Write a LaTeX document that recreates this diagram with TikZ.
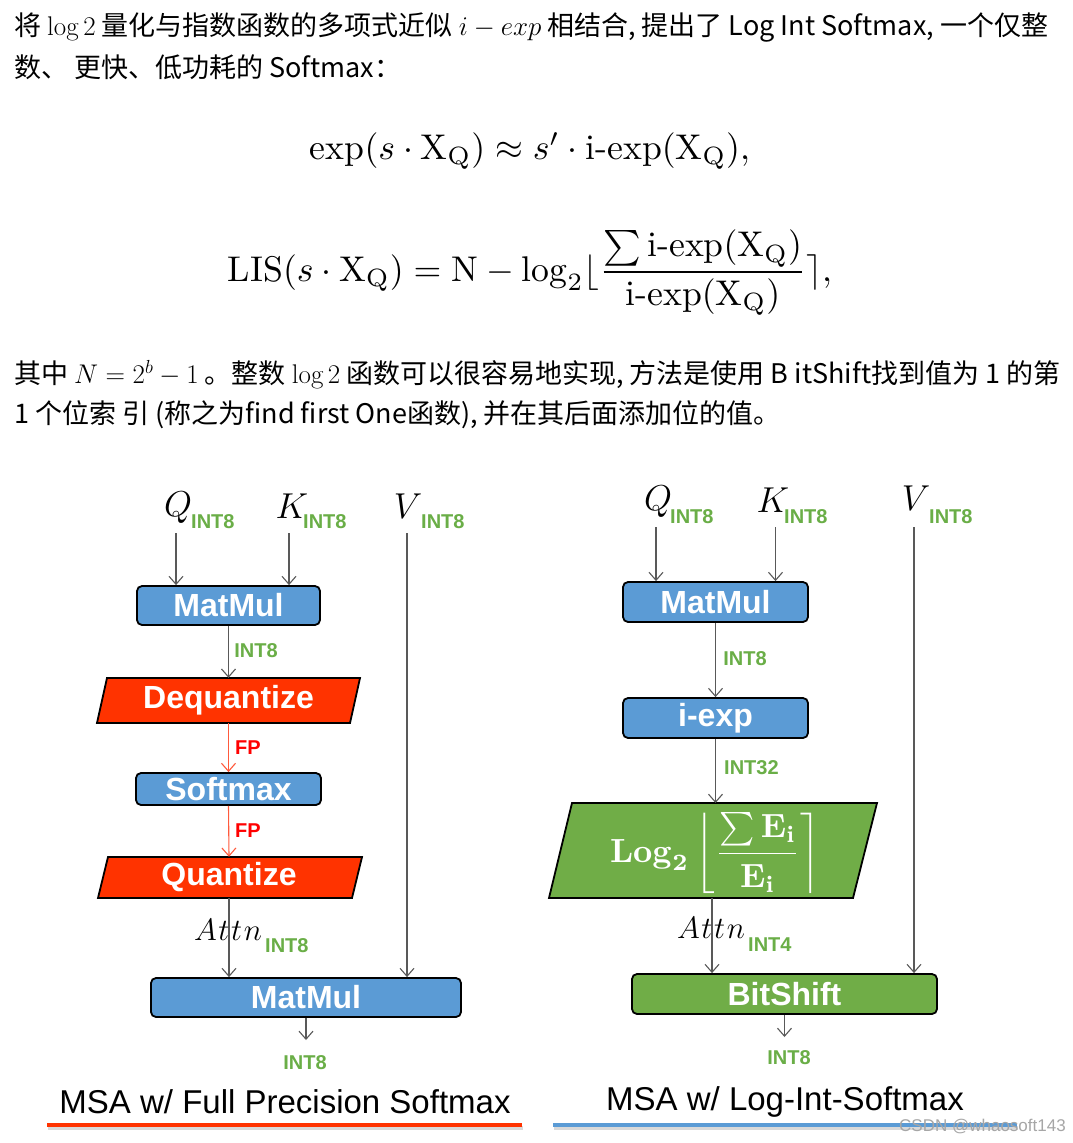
\RequirePackage{fix-cm}
\documentclass[tikz,border=0pt]{standalone}
\usepackage{fontspec}
\usepackage{amsmath}
\usepackage{graphicx}
\newfontfamily\cjk{Noto Sans CJK SC}
\newfontfamily\arial{Liberation Sans}
\usetikzlibrary{arrows.meta}
\definecolor{boxblue}{HTML}{5B9BD5}
\definecolor{boxred}{HTML}{FF3300}
\definecolor{boxgreen}{HTML}{70AD47}
\definecolor{lblgreen}{HTML}{6AAE47}
\definecolor{fpred}{HTML}{FF0000}
\definecolor{fparrow}{HTML}{FF5A3C}
\definecolor{arrgray}{HTML}{595959}
\begin{document}
\begin{tikzpicture}[x=1pt,y=-1pt,
  txtline/.style={anchor=west,inner sep=0pt,font=\cjk\fontsize{27}{32}\selectfont},
  opbox/.style={draw=black,line width=1.8pt,rounded corners=5pt,fill=boxblue,text=white,
     font=\arial\bfseries\fontsize{32}{36}\selectfont,inner sep=0pt},
  paratext/.style={inner sep=0pt,text=white,font=\arial\bfseries\fontsize{32}{36}\selectfont},
  parashape/.style={draw=black,line width=1.8pt,line join=miter},
  conn/.style={draw=arrgray,line width=1.1pt,-{Straight Barb[length=8pt,width=14pt,line width=1.1pt]}},
  fpconn/.style={draw=fparrow,line width=1.1pt,-{Straight Barb[length=8pt,width=14pt,line width=1.1pt]}},
  greenlbl/.style={inner sep=0pt,text=lblgreen,font=\arial\bfseries\fontsize{20}{22}\selectfont},
  redlbl/.style={inner sep=0pt,text=fpred,font=\arial\bfseries\fontsize{20}{22}\selectfont},
  varlbl/.style={inner sep=0pt,font=\fontsize{36}{40}\selectfont},
  attnlbl/.style={inner sep=0pt,font=\fontsize{31}{36}\selectfont},
  title/.style={inner sep=0pt,font=\arial\fontsize{33}{36}\selectfont}
]
\useasboundingbox (0,0) rectangle (1073,1143);
\fill[white] (0,0) rectangle (1073,1143);

% ---------- text ----------
\node[txtline] (l1) at (14,27) {将 $\log 2$ 量化与指数函数的多项式近似 $i-exp$ 相结合, 提出了 Log Int Softmax, 一个仅整};
\node[txtline] (l2) at (14,67) {数、 更快、低功耗的 Softmax：};
\node[inner sep=0pt] (eq1) at (530,151) {\resizebox{440pt}{!}{$\exp(s\cdot \mathrm{X_Q})\approx s'\cdot \text{i-exp}(\mathrm{X_Q}),$}};
\node[inner sep=0pt] (eq2) at (530,273) {\resizebox{604pt}{!}{$\mathrm{LIS}(s\cdot \mathrm{X_Q}) = \mathrm{N}-\log_2\lfloor\dfrac{\sum \text{i-exp}(\mathrm{X_Q})}{\text{i-exp}(\mathrm{X_Q})}\rceil,$}};
\node[txtline] (l3) at (14,375) {其中 $N=2^b-1$ 。整数 $\log 2$ 函数可以很容易地实现, 方法是使用 B itShift找到值为 1 的第};
\node[txtline] (l4) at (14,415) {1 个位索 引 (称之为find first One函数), 并在其后面添加位的值。};

% ---------- left diagram ----------
\node[varlbl] (q1) at (178,508) {$Q$};
\node[greenlbl,anchor=west] (q1s) at (191,522) {INT8};
\node[varlbl] (k1) at (292,506) {$K$};
\node[greenlbl,anchor=west] (k1s) at (303,522) {INT8};
\node[varlbl] (v1) at (408,506) {$V$};
\node[greenlbl,anchor=west] (v1s) at (421,522) {INT8};

\node[opbox,minimum width=183pt,minimum height=39pt] (mm1) at (228.5,605.5) {MatMul};

\filldraw[parashape,fill=boxred] (107,678) -- (360,678) -- (350,723) -- (97,723) -- cycle;
\node[paratext,minimum width=240pt,minimum height=45pt] (deq) at (228.5,700.5) {Dequantize};

\node[opbox,minimum width=185pt,minimum height=32pt] (sm) at (228.5,789) {Softmax};

\filldraw[parashape,fill=boxred] (108,857) -- (362,857) -- (352,898) -- (98,898) -- cycle;
\node[paratext,minimum width=240pt,minimum height=41pt] (qt) at (229,877.5) {Quantize};

\node[opbox,minimum width=310pt,minimum height=39pt] (mm2) at (306,997.5) {MatMul};

\coordinate (q1a) at (176,533);
\coordinate (k1a) at (289,533);
\coordinate (v1a) at (407,533);
\draw[conn] (q1a) -- (q1a |- mm1.north);
\draw[conn] (k1a) -- (k1a |- mm1.north);
\draw[conn] (mm1.south) -- (deq.north);
\node[greenlbl] (i8a) at (256,651) {INT8};
\draw[fpconn] (deq.south) -- (sm.north);
\node[redlbl] (fp1) at (248,748) {FP};
\draw[fpconn] (sm.south) -- (qt.north);
\node[redlbl] (fp2) at (248,831) {FP};
\coordinate (at1) at (229,898);
\draw[conn] (at1) -- (at1 |- mm2.north);
\draw[conn] (v1a) -- (v1a |- mm2.north);
\node[attnlbl] (attn1) at (228,930) {$A\mkern1mu t\mkern1mu t\mkern1mu n$};
\node[greenlbl,anchor=west] (attn1s) at (265,946) {INT8};
\coordinate (o1) at (306,1040);
\draw[conn] (mm2.south) -- (o1);
\node[greenlbl] (o1l) at (305,1063) {INT8};

\node[title] (t1) at (285,1102) {MSA w/ Full Precision Softmax};
\draw[line width=4pt,black!15] (48,1128) -- (523,1128);
\draw[line width=4pt,boxred] (47,1125) -- (522,1125);

% ---------- right diagram ----------
\node[varlbl] (q2) at (658,502) {$Q$};
\node[greenlbl,anchor=west] (q2s) at (670,517) {INT8};
\node[varlbl] (k2) at (773,500) {$K$};
\node[greenlbl,anchor=west] (k2s) at (784,517) {INT8};
\node[varlbl] (v2) at (916,498) {$V$};
\node[greenlbl,anchor=west] (v2s) at (929,517) {INT8};

\node[opbox,minimum width=185pt,minimum height=40pt] (mm3) at (715.5,602) {MatMul};
\node[opbox,minimum width=185pt,minimum height=40pt] (iexp) at (715.5,718) {i-exp};

\filldraw[parashape,fill=boxgreen] (572,803) -- (877,803) -- (853,898) -- (549,898) -- cycle;
\node[inner sep=0pt,text=white] (lg) at (715,853)
  {\resizebox{210pt}{!}{\boldmath$\mathbf{Log}_{\mathbf{2}}\left\lfloor\dfrac{\sum\mathbf{E}_{\mathbf{i}}}{\mathbf{E}_{\mathbf{i}}}\right\rceil$}};
\coordinate (lgtop) at (715.5,803);

\node[opbox,fill=boxgreen,minimum width=305pt,minimum height=40pt] (bs) at (784.5,994) {BitShift};

\coordinate (q2a) at (656,527);
\coordinate (k2a) at (775.5,527);
\coordinate (v2a) at (914,527);
\draw[conn] (q2a) -- (q2a |- mm3.north);
\draw[conn] (k2a) -- (k2a |- mm3.north);
\draw[conn] (mm3.south) -- (iexp.north);
\node[greenlbl] (i8b) at (745,659) {INT8};
\draw[conn] (iexp.south) -- (lgtop);
\node[greenlbl,anchor=west] (i32) at (724,768) {INT32};
\coordinate (at2) at (712,898);
\draw[conn] (at2) -- (at2 |- bs.north);
\draw[conn] (v2a) -- (v2a |- bs.north);
\node[attnlbl] (attn2) at (711,928) {$A\mkern1mu t\mkern1mu t\mkern1mu n$};
\node[greenlbl,anchor=west] (attn2s) at (748,945) {INT4};
\coordinate (o2) at (784.5,1037);
\draw[conn] (bs.south) -- (o2);
\node[greenlbl] (o2l) at (789,1058) {INT8};

\node[title] (t2) at (785,1102) {MSA w/ Log-Int-Softmax};
\draw[line width=4pt,black!15] (554,1128) -- (1018,1128);
\draw[line width=4pt,boxblue] (553,1125) -- (1017,1125);

\node[inner sep=0pt,anchor=west,text=black!35,font=\arial\fontsize{17}{19}\selectfont] (wm) at (899,1127) {CSDN @whaosoft143};
\end{tikzpicture}
\end{document}
